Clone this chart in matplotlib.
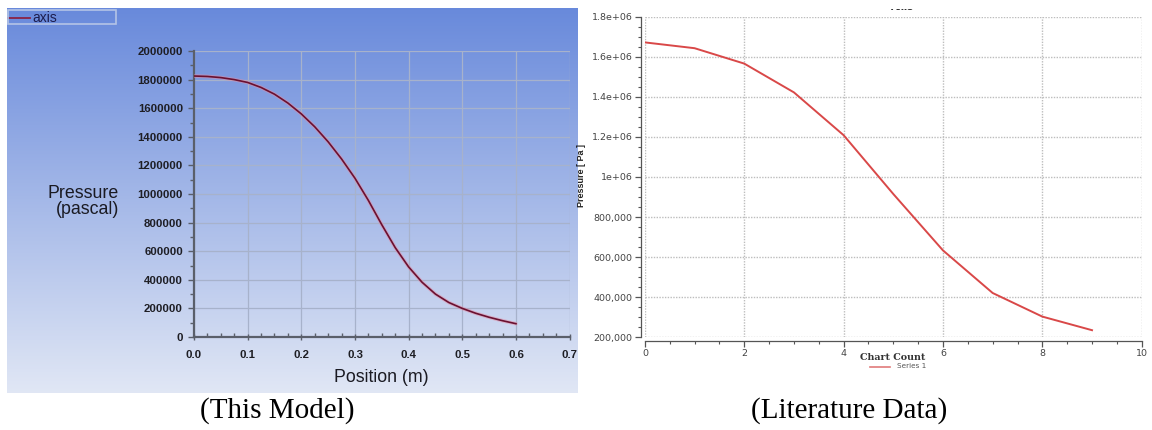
import numpy as np
import matplotlib
matplotlib.use("Agg")
import matplotlib.pyplot as plt
from matplotlib.ticker import FixedLocator, MultipleLocator, FixedFormatter
from matplotlib.patches import Rectangle
from matplotlib.lines import Line2D

# ---- data: simulated centre-line pressure along the nozzle ----
model_position = [0.000, 0.025, 0.050, 0.075, 0.100, 0.125, 0.150, 0.175, 0.200,
                  0.225, 0.250, 0.275, 0.300, 0.325, 0.350, 0.375, 0.400, 0.425,
                  0.450, 0.475, 0.500, 0.525, 0.550, 0.575, 0.600]
model_pressure = [1825000, 1822000, 1814000, 1800000, 1780000, 1745000, 1698000,
                  1636000, 1560000, 1470000, 1365000, 1245000, 1110000, 955000,
                  785000, 625000, 490000, 383000, 300000, 241000, 200000, 166000,
                  138000, 114000, 93000]

# ---- data: published pressure distribution ----
lit_count = [0, 1, 2, 3, 4, 5, 6, 7, 8, 9]
lit_pressure = [1673000, 1644000, 1567000, 1423000, 1209000, 915000, 633000,
                420000, 302000, 234000]

# ---- tick values and labels ----
model_xticks = [0.0, 0.1, 0.2, 0.3, 0.4, 0.5, 0.6, 0.7]
model_xlabels = ["0.0", "0.1", "0.2", "0.3", "0.4", "0.5", "0.6", "0.7"]
model_yticks = [0, 200000, 400000, 600000, 800000, 1000000, 1200000, 1400000,
                1600000, 1800000, 2000000]
model_ylabels = ["0", "200000", "400000", "600000", "800000", "1000000", "1200000",
                 "1400000", "1600000", "1800000", "2000000"]
lit_xticks = [0, 2, 4, 6, 8, 10]
lit_xlabels = ["0", "2", "4", "6", "8", "10"]
lit_yticks = [200000, 400000, 600000, 800000, 1000000, 1200000, 1400000, 1600000,
              1800000]
lit_ylabels = ["200,000", "400,000", "600,000", "800,000", "1e+06", "1.2e+06",
               "1.4e+06", "1.6e+06", "1.8e+06"]

W, H = 1152, 430
fig = plt.figure(figsize=(W / 100, H / 100), dpi=100)
fig.patch.set_facecolor("white")


def fx(px):
    return px / W


def fy(py):
    return 1 - py / H


# ---------------- left panel: blue gradient background ----------------
bg = fig.add_axes([fx(7), fy(393), fx(578 - 7), (393 - 8) / H])
top = np.array([0.41, 0.54, 0.86])
bottom = np.array([0.88, 0.905, 0.96])
t = np.linspace(0, 1, 256)[:, None]
grad = top[None, None, :] * (1 - t[:, :, None]) + bottom[None, None, :] * t[:, :, None]
grad = np.repeat(grad, 2, axis=1)
bg.imshow(grad, aspect="auto", extent=[0, 1, 0, 1])
bg.set_axis_off()

ax1 = fig.add_axes([fx(194), fy(337), fx(569.6 - 194), (337 - 51) / H])
ax1.set_facecolor("none")
ax1.plot(model_position, model_pressure, color="#e58aa2", lw=2.6, alpha=0.5,
         solid_capstyle="round", zorder=3)
ax1.plot(model_position, model_pressure, color="#6a1030", lw=1.2, zorder=4)
ax1.set_xlim(0, 0.7)
ax1.set_ylim(0, 2000000)
ax1.xaxis.set_major_locator(FixedLocator(model_xticks))
ax1.xaxis.set_major_formatter(FixedFormatter(model_xlabels))
ax1.yaxis.set_major_locator(FixedLocator(model_yticks))
ax1.yaxis.set_major_formatter(FixedFormatter(model_ylabels))
ax1.xaxis.set_minor_locator(MultipleLocator(0.025))
ax1.yaxis.set_minor_locator(MultipleLocator(100000))
ax1.grid(True, which="major", color="#a7b2cb", lw=0.9)
ax1.set_axisbelow(True)
for s in ("top", "right"):
    ax1.spines[s].set_visible(False)
for s in ("left", "bottom"):
    ax1.spines[s].set_color("#5a5f6a")
    ax1.spines[s].set_linewidth(1.6)
ax1.tick_params(axis="y", which="major", direction="out", length=4, width=1,
                color="#5a5f6a", pad=4)
ax1.tick_params(axis="y", which="minor", direction="out", length=3, width=1,
                color="#5a5f6a")
ax1.tick_params(axis="x", which="major", direction="inout", length=5, width=1,
                color="#5a5f6a", pad=7)
ax1.tick_params(axis="x", which="minor", direction="in", length=3, width=1,
                color="#5a5f6a")
for lab in ax1.get_xticklabels() + ax1.get_yticklabels():
    lab.set_fontfamily("Liberation Sans")
    lab.set_fontsize(8.2)
    lab.set_fontweight("bold")
    lab.set_color("#1e1e24")

fig.text(fx(119), fy(193), "Pressure", ha="right", va="center",
         fontfamily="Liberation Sans", fontsize=12.8, color="#1a1a22")
fig.text(fx(119), fy(210), "(pascal)", ha="right", va="center",
         fontfamily="Liberation Sans", fontsize=12.8, color="#1a1a22")
fig.text(fx(381.5), fy(377), "Position (m)", ha="center", va="center",
         fontfamily="Liberation Sans", fontsize=12.8, color="#1a1a22")

# legend box in the upper-left corner
fig.patches.append(Rectangle((fx(7.5), fy(24)), fx(116 - 7.5), 14 / H,
                             transform=fig.transFigure, facecolor="none",
                             edgecolor="#b4c4e6", lw=1.2, zorder=5))
fig.lines.append(Line2D([fx(8), fx(30)], [fy(17.5), fy(17.5)],
                        transform=fig.transFigure, color="#8a2245", lw=1.3))
fig.text(fx(32), fy(17.5), "axis", ha="left", va="center",
         fontfamily="Liberation Sans", fontsize=10, color="#1c1c4c")

# ---------------- right panel: published data ----------------
ax2 = fig.add_axes([fx(644.9), fy(337), fx(1141.7 - 644.9), (337 - 17) / H])
ax2.set_facecolor("white")
ax2.plot(lit_count, lit_pressure, color="#d94848", lw=1.4, zorder=3)
ax2.set_xlim(0, 10)
ax2.set_ylim(200000, 1800000)
ax2.xaxis.set_major_locator(FixedLocator(lit_xticks))
ax2.xaxis.set_major_formatter(FixedFormatter(lit_xlabels))
ax2.yaxis.set_major_locator(FixedLocator(lit_yticks))
ax2.yaxis.set_major_formatter(FixedFormatter(lit_ylabels))
ax2.xaxis.set_minor_locator(MultipleLocator(0.5))
ax2.yaxis.set_minor_locator(MultipleLocator(50000))
ax2.grid(True, which="major", color="#bdbdbd", lw=1.0, ls=(0, (1, 1)))
ax2.set_axisbelow(True)
for s in ("top", "right"):
    ax2.spines[s].set_visible(False)
for s in ("left", "bottom"):
    ax2.spines[s].set_color("#555555")
    ax2.spines[s].set_linewidth(0.9)
    ax2.spines[s].set_position(("outward", 3))
ax2.tick_params(which="major", direction="out", length=4, width=0.9,
                color="#555555", pad=2)
ax2.tick_params(which="minor", direction="out", length=2.5, width=0.8,
                color="#555555")
for lab in ax2.get_xticklabels() + ax2.get_yticklabels():
    lab.set_fontfamily("DejaVu Sans")
    lab.set_fontsize(6.8)
    lab.set_color("#444444")

fig.text(fx(581), fy(175), "Pressure [ Pa ]", rotation=90, ha="center",
         va="center", fontfamily="Liberation Sans", fontsize=6.5,
         fontweight="bold", color="#222222")
fig.text(fx(893), fy(357), "Chart Count", ha="center", va="center",
         fontfamily="DejaVu Serif", fontsize=6.8, fontweight="bold",
         color="#333333")
fig.lines.append(Line2D([fx(870), fx(890)], [fy(366.5), fy(366.5)],
                        transform=fig.transFigure, color="#e07a7a", lw=1.2))
fig.text(fx(897), fy(366.5), "Series 1", ha="left", va="center",
         fontfamily="DejaVu Sans", fontsize=5.2, color="#555555")
fig.text(fx(902), fy(12), "Axis", ha="center", va="bottom",
         fontfamily="DejaVu Sans", fontsize=7, fontweight="bold",
         color="#333333")
# white strip along the top edge
fig.patches.append(Rectangle((fx(578), fy(9)), fx(W - 578), 9 / H,
                             transform=fig.transFigure, facecolor="white",
                             edgecolor="none", zorder=10))

# ---------------- captions ----------------
fig.text(fx(277.5), fy(411), "(This Model)", ha="center", va="center",
         fontfamily="Liberation Serif", fontsize=21, color="black")
fig.text(fx(849), fy(411), "(Literature Data)", ha="center", va="center",
         fontfamily="Liberation Serif", fontsize=21, color="black")

fig.savefig("out.png", dpi=100)
